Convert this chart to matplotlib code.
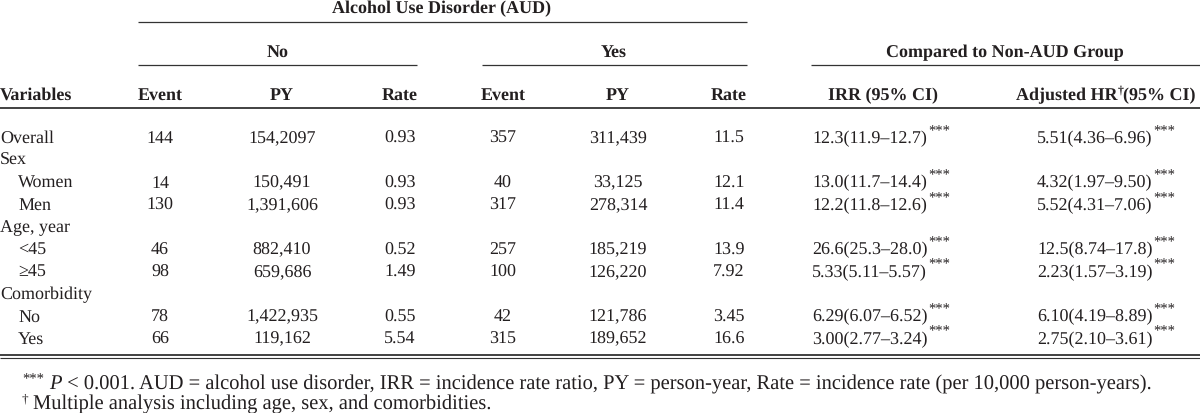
import matplotlib
matplotlib.use("Agg")
import matplotlib.pyplot as plt

plt.rcParams['font.family'] = ['Liberation Serif', 'DejaVu Serif']
plt.rcParams['text.hinting'] = 'no_hinting'

# table content
row_labels = ["Overall", "Sex", "Women", "Men", "Age, year", "<45", "≥45",
              "Comorbidity", "No", "Yes"]
row_indent = [0, 0, 1, 1, 0, 1, 1, 0, 1, 1]
no_event = ["144", "", "14", "130", "", "46", "98", "", "78", "66"]
no_py = ["154,2097", "", "150,491", "1,391,606", "", "882,410", "659,686", "",
         "1,422,935", "119,162"]
no_rate = ["0.93", "", "0.93", "0.93", "", "0.52", "1.49", "", "0.55", "5.54"]
yes_event = ["357", "", "40", "317", "", "257", "100", "", "42", "315"]
yes_py = ["311,439", "", "33,125", "278,314", "", "185,219", "126,220", "",
          "121,786", "189,652"]
yes_rate = ["11.5", "", "12.1", "11.4", "", "13.9", "7.92", "", "3.45", "16.6"]
irr = ["12.3(11.9–12.7)", "", "13.0(11.7–14.4)", "12.2(11.8–12.6)", "",
       "26.6(25.3–28.0)", "5.33(5.11–5.57)", "", "6.29(6.07–6.52)",
       "3.00(2.77–3.24)"]
adj_hr = ["5.51(4.36–6.96)", "", "4.32(1.97–9.50)", "5.52(4.31–7.06)", "",
          "12.5(8.74–17.8)", "2.23(1.57–3.19)", "", "6.10(4.19–8.89)",
          "2.75(2.10–3.61)"]
col_headers = ["Event", "PY", "Rate", "Event", "PY", "Rate", "IRR (95% CI)"]
footnote1 = (" < 0.001. AUD = alcohol use disorder, IRR = incidence rate ratio, "
             "PY = person-year, Rate = incidence rate (per 10,000 person-years).")
footnote2 = "Multiple analysis including age, sex, and comorbidities."

INK = "#231f20"
LINE = "#333333"
FS = 13
FS_NOTE = 14.8

fig = plt.figure(figsize=(12, 4.14), dpi=100)
ax = fig.add_axes([0, 0, 1, 1])
ax.set_xlim(0, 1200)
ax.set_ylim(414, 0)
ax.axis("off")
fig.canvas.draw()
renderer = fig.canvas.get_renderer()


def txt(x, y, s, **kw):
    kw.setdefault("fontsize", FS)
    kw.setdefault("color", INK)
    kw.setdefault("va", "baseline")
    return ax.text(x, y, s, **kw)


def width_of(t):
    return t.get_window_extent(renderer).width


def hline(x0, x1, y, lw=0.9):
    ax.plot([x0, x1], [y, y], color=LINE, lw=lw, solid_capstyle="butt")


# spanning headers
txt(442, 13, "Alcohol Use Disorder (AUD)", ha="center", weight="bold")
hline(138, 747, 23)
txt(278, 57, "No", ha="center", weight="bold")
txt(614, 57, "Yes", ha="center", weight="bold")
txt(1005, 57, "Compared to Non-AUD Group", ha="center", weight="bold")
hline(138, 417, 66)
hline(482, 747, 66)
hline(811, 1200, 66)

# column headers
centers = [160, 282, 400, 503, 618, 729, 883]
txt(0, 100, "Variables", ha="left", weight="bold")
for cx, h in zip(centers, col_headers):
    txt(cx, 100, h, ha="center", weight="bold")

# Adjusted HR header with superscript dagger
parts = [("Adjusted HR", FS, 0), ("†", 8.5, -6), ("(95% CI)", FS, 0)]
tmp = [txt(0, 0, s, fontsize=f, weight="bold") for s, f, _ in parts]
widths = [width_of(t) for t in tmp]
for t in tmp:
    t.remove()
x = 1106 - sum(widths) / 2
for (s, f, dy), w in zip(parts, widths):
    txt(x, 100 + dy, s, fontsize=f, weight="bold")
    x += w
hline(0, 1200, 109, lw=1.3)

# body rows
y0, dy = 143, 22.3
cols = [no_event, no_py, no_rate, yes_event, yes_py, yes_rate]
for i, lab in enumerate(row_labels):
    y = y0 + i * dy
    txt(18 * row_indent[i], y, lab, ha="left")
    for cx, col in zip(centers[:6], cols):
        if col[i]:
            txt(cx, y, col[i], ha="center")
    for lx, col in ((812, irr), (1037, adj_hr)):
        if col[i]:
            t = txt(lx, y, col[i], ha="left")
            txt(lx + width_of(t) + 1, y - 8, "***", ha="left", fontsize=10.5)

hline(0, 1200, 355.5, lw=1.3)
hline(0, 1200, 358.8, lw=0.8)

# footnotes
txt(22, 383, "***", fontsize=10.5)
t = txt(49, 389, "P", fontsize=FS_NOTE, style="italic")
txt(49 + width_of(t), 389, footnote1, fontsize=FS_NOTE)
txt(22, 402, "†", fontsize=9.5)
txt(33, 409, footnote2, fontsize=FS_NOTE)

fig.savefig("out.png", dpi=100, facecolor="white")
